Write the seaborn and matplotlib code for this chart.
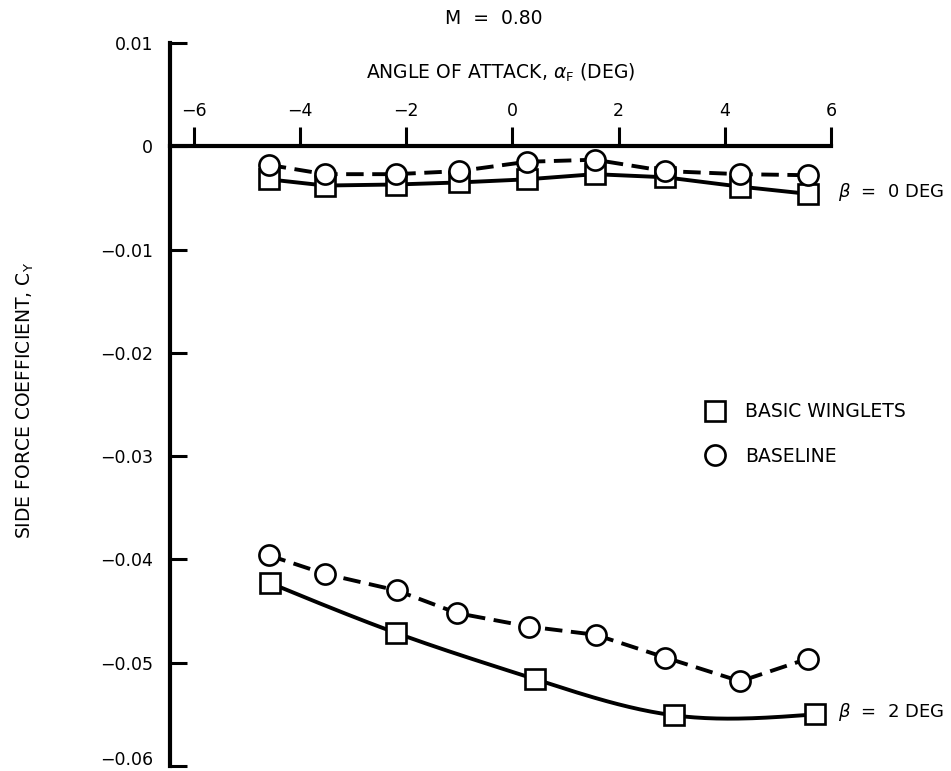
import numpy as np
import pandas as pd
import matplotlib
matplotlib.use("Agg")
import matplotlib.pyplot as plt
from matplotlib.lines import Line2D
import matplotlib.transforms as mtransforms
import seaborn as sns

# Side force coefficient vs angle of attack, M = 0.80
alpha_b0 = [-4.59, -3.53, -2.20, -1.00, 0.27, 1.55, 2.88, 4.28, 5.56]
cy_baseline_b0 = [-0.0018, -0.0027, -0.0027, -0.0024, -0.0015, -0.0013, -0.0024, -0.0027, -0.0028]
cy_winglets_b0 = [-0.0032, -0.0038, -0.0037, -0.0035, -0.0032, -0.0027, -0.0030, -0.0039, -0.0046]

alpha_baseline_b2 = [-4.59, -3.53, -2.18, -1.04, 0.31, 1.57, 2.88, 4.29, 5.57]
cy_baseline_b2 = [-0.0396, -0.0414, -0.0430, -0.0452, -0.0465, -0.0473, -0.0495, -0.0518, -0.0496]
alpha_winglets_b2 = [-4.56, -2.20, 0.43, 3.05, 5.70]
cy_winglets_b2 = [-0.0423, -0.0471, -0.0516, -0.0551, -0.0550]

x_ticks = [-6, -4, -2, 0, 2, 4, 6]
y_ticks = [-0.06, -0.05, -0.04, -0.03, -0.02, -0.01, 0.0, 0.01]
y_tick_labels = ["\u22120.06", "\u22120.05", "\u22120.04", "\u22120.03", "\u22120.02", "\u22120.01", "0", "0.01"]


def natural_spline(x, y, n=200):
    """Smooth fairing curve through the measured points (natural cubic spline)."""
    x = np.asarray(x, float)
    y = np.asarray(y, float)
    k = len(x)
    h = np.diff(x)
    A = np.zeros((k, k))
    b = np.zeros(k)
    A[0, 0] = A[-1, -1] = 1.0
    for i in range(1, k - 1):
        A[i, i - 1] = h[i - 1]
        A[i, i] = 2 * (h[i - 1] + h[i])
        A[i, i + 1] = h[i]
        b[i] = 6 * ((y[i + 1] - y[i]) / h[i] - (y[i] - y[i - 1]) / h[i - 1])
    M = np.linalg.solve(A, b)
    xs = np.linspace(x[0], x[-1], n)
    idx = np.clip(np.searchsorted(x, xs) - 1, 0, k - 2)
    x0, x1 = x[idx], x[idx + 1]
    hh = x1 - x0
    t0, t1 = x1 - xs, xs - x0
    ys = (M[idx] * t0 ** 3 + M[idx + 1] * t1 ** 3) / (6 * hh) \
        + (y[idx] / hh - M[idx] * hh / 6) * t0 \
        + (y[idx + 1] / hh - M[idx + 1] * hh / 6) * t1
    return xs, ys


sns.set_theme(style="white")
plt.rcParams["font.family"] = ["DejaVu Sans"]
plt.rcParams["mathtext.fontset"] = "dejavusans"
plt.rcParams["text.color"] = "black"
plt.rcParams["axes.labelcolor"] = "black"

FS = 13.5
TICK_FS = 12.5

W, H = 951, 771
fig = plt.figure(figsize=(W / 100, H / 100), dpi=100)
ax = fig.add_axes([170 / W, (H - 766) / H, 661 / W, (766 - 43) / H])

LW = 2.8
marker_kw = dict(markerfacecolor="white", markeredgecolor="black",
                 markeredgewidth=1.9, markersize=14.5)

# dashed baseline curves
df_base0 = pd.DataFrame({"alpha": alpha_b0, "cy": cy_baseline_b0})
df_base2 = pd.DataFrame({"alpha": alpha_baseline_b2, "cy": cy_baseline_b2})
for df in (df_base0, df_base2):
    sns.lineplot(data=df, x="alpha", y="cy", ax=ax, color="black", lw=LW,
                 sort=False, estimator=None, zorder=2)
    ax.lines[-1].set_dashes([4.5, 2.2])

# solid winglet curves
df_wing0 = pd.DataFrame({"alpha": alpha_b0, "cy": cy_winglets_b0})
sns.lineplot(data=df_wing0, x="alpha", y="cy", ax=ax, color="black", lw=LW,
             sort=False, estimator=None, zorder=2)
xs, ys = natural_spline(alpha_winglets_b2, cy_winglets_b2)
sns.lineplot(x=xs, y=ys, ax=ax, color="black", lw=LW, sort=False,
             estimator=None, zorder=2)

# symbols (circles drawn over squares)
for a, c in ((alpha_b0, cy_winglets_b0), (alpha_winglets_b2, cy_winglets_b2)):
    ax.plot(a, c, ls="none", marker="s", zorder=4, **marker_kw)
for a, c in ((alpha_b0, cy_baseline_b0), (alpha_baseline_b2, cy_baseline_b2)):
    ax.plot(a, c, ls="none", marker="o", zorder=5, **marker_kw)

ax.set_xlim(-6.45, 6.0)
ax.set_ylim(-0.06, 0.01)

# axes: vertical scale on the left, alpha scale along CY = 0
for s in ("right", "bottom"):
    ax.spines[s].set_visible(False)
ax.spines["left"].set_linewidth(3.0)
ax.spines["left"].set_color("black")
ax.spines["top"].set_position(("data", 0))
ax.spines["top"].set_linewidth(3.0)
ax.spines["top"].set_color("black")

ax.xaxis.tick_top()
ax.set_xticks(x_ticks)
ax.set_xticklabels([("\u2212%d" % -v) if v < 0 else "%d" % v for v in x_ticks])
ax.tick_params(axis="x", direction="out", length=14, width=2.2, pad=5,
               labelsize=TICK_FS, colors="black", top=True, bottom=False)
ax.set_yticks(y_ticks)
ax.set_yticklabels(y_tick_labels)
ax.tick_params(axis="y", direction="in", length=12, width=2.2, pad=12,
               labelsize=TICK_FS, colors="black", left=True)
# keep the lowest label inside the figure
lowest = ax.get_yticklabels()[0]
lowest.set_transform(lowest.get_transform() +
                     mtransforms.ScaledTranslation(0, 8 / 100, fig.dpi_scale_trans))

ax.xaxis.set_label_position("top")
ax.set_xlabel(r"ANGLE OF ATTACK, $\alpha_\mathregular{F}$ (DEG)",
              fontsize=FS, labelpad=17, color="black")
ax.set_ylabel(r"SIDE FORCE COEFFICIENT, C$_\mathregular{Y}$",
              fontsize=FS, color="black")
ax.yaxis.set_label_coords(36 / W, (H - 400) / H, transform=fig.transFigure)
fig.text(494 / W, 1 - 18 / H, "M  =  0.80", ha="center", va="center",
         fontsize=FS, color="black")

# condition labels
ax.annotate(r"$\beta$  =  0 DEG", xy=(1, 0), xycoords=ax.transAxes,
            xytext=(838 / W, 1 - 192 / H), textcoords="figure fraction",
            ha="left", va="center", fontsize=13, color="black",
            annotation_clip=False)
ax.annotate(r"$\beta$  =  2 DEG", xy=(1, 0), xycoords=ax.transAxes,
            xytext=(838 / W, 1 - 712 / H), textcoords="figure fraction",
            ha="left", va="center", fontsize=13, color="black",
            annotation_clip=False)

handles = [
    Line2D([], [], ls="none", marker="s", **marker_kw),
    Line2D([], [], ls="none", marker="o", **marker_kw),
]
leg = ax.legend(handles, ["BASIC WINGLETS", "BASELINE"], loc="center left",
                bbox_to_anchor=(704 / W, 1 - 434 / H), bbox_transform=fig.transFigure,
                frameon=False, fontsize=FS, labelspacing=1.35, handletextpad=1.0,
                handlelength=1.2, borderpad=0, borderaxespad=0,
                labelcolor="black")

fig.savefig("out.png", dpi=100)
